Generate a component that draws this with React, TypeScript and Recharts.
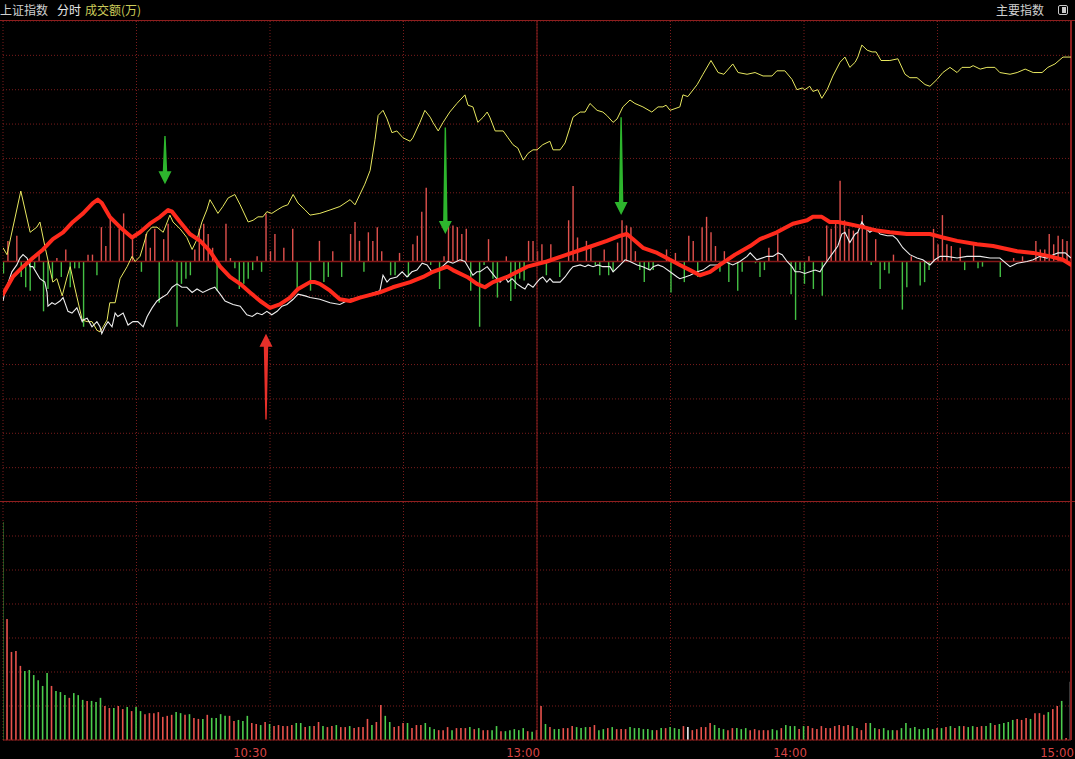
import React from 'react';
import { ComposedChart, Line, Bar, Cell, XAxis, YAxis, ReferenceLine, CartesianGrid } from 'recharts';

// ---------- axis / labels ----------
const minuteTicks = [30, 60, 90, 120, 150, 180, 210, 240];
const labelByMinute: Record<number, string> = { 60: '10:30', 120: '13:00', 180: '14:00', 240: '15:00' };
const priceTicks = [1.2, 1.0, 0.8, 0.6, 0.4, 0.2, -0.2, -0.4, -0.6, -0.8, -1.0, -1.2];
const volumeTicks = [10, 20, 30, 40, 50, 60];

// ---------- series (minute, % change) ----------
const yellowLine: [number, number][] = [
  [0, 0.08], [0.9, 0.04], [4.0, 0.41], [6.1, 0.17], [7.6, 0.20], [8.3, 0.23], [9.4, 0.09], [11.2, -0.12], [12.1, -0.10], [13.3, -0.20],
  [14.4, -0.09], [15.1, -0.03], [16.2, -0.16], [17.8, -0.34], [18.9, -0.35], [20.0, -0.35], [21.1, -0.40], [21.8, -0.41], [22.5, -0.38], [23.4, -0.34],
  [24.0, -0.24], [25.2, -0.24], [26.3, -0.10], [27.9, -0.03], [29.0, 0.03], [29.7, 0.00], [30.8, 0.03], [31.5, 0.09], [32.4, 0.17], [33.5, 0.20],
  [34.6, 0.20], [36.0, 0.17], [36.9, 0.23], [37.5, 0.27], [38.2, 0.23], [39.8, 0.19], [41.3, 0.14], [42.5, 0.07], [43.6, 0.13], [44.7, 0.23],
  [45.8, 0.30], [46.5, 0.36], [47.2, 0.33], [48.3, 0.28], [49.4, 0.32], [50.6, 0.37], [52.1, 0.39], [53.3, 0.33], [55.1, 0.23], [56.2, 0.24],
  [57.3, 0.26], [58.4, 0.26], [59.3, 0.29], [60.4, 0.28], [61.6, 0.30], [62.9, 0.32], [64.0, 0.33], [65.2, 0.39], [66.3, 0.34], [67.9, 0.30],
  [69.0, 0.27], [71.2, 0.28], [73.5, 0.30], [75.7, 0.32], [78.0, 0.36], [79.1, 0.33], [80.2, 0.39], [81.3, 0.45], [82.5, 0.53], [83.6, 0.71],
  [84.3, 0.85], [85.4, 0.88], [86.3, 0.83], [87.4, 0.75], [88.5, 0.76], [89.9, 0.72], [91.5, 0.70], [92.1, 0.72], [93.7, 0.81], [94.8, 0.88],
  [96.0, 0.84], [96.6, 0.81], [97.8, 0.76], [98.9, 0.81], [100.4, 0.87], [102.0, 0.92], [103.8, 0.97], [104.5, 0.91], [105.6, 0.90], [106.7, 0.81],
  [107.9, 0.84], [108.8, 0.87], [109.4, 0.84], [110.6, 0.76], [112.4, 0.76], [113.5, 0.72], [114.6, 0.68], [115.7, 0.66], [116.9, 0.59], [118.0, 0.63],
  [119.1, 0.65], [120.0, 0.65], [121.3, 0.68], [122.9, 0.70], [123.6, 0.65], [125.2, 0.65], [126.3, 0.69], [127.4, 0.78], [128.1, 0.84], [129.7, 0.87],
  [130.8, 0.87], [131.9, 0.92], [133.5, 0.88], [134.8, 0.87], [135.7, 0.85], [137.1, 0.81], [138.0, 0.83], [139.3, 0.90], [140.9, 0.94], [142.0, 0.92],
  [143.8, 0.90], [145.8, 0.87], [147.2, 0.90], [148.3, 0.90], [149.0, 0.91], [149.9, 0.88], [151.0, 0.89], [152.1, 0.90], [152.8, 0.97], [153.9, 0.96],
  [156.0, 1.03], [157.3, 1.09], [159.1, 1.17], [160.7, 1.10], [162.0, 1.09], [164.0, 1.15], [165.2, 1.10], [167.2, 1.09], [169.0, 1.10], [170.8, 1.08],
  [172.8, 1.08], [173.9, 1.11], [175.7, 1.11], [177.3, 1.06], [178.4, 1.00], [179.6, 1.01], [180.2, 1.00], [181.3, 1.02], [182.0, 0.99], [183.1, 1.00],
  [184.0, 0.95], [185.2, 1.00], [186.5, 1.08], [188.1, 1.16], [189.2, 1.19], [190.3, 1.13], [191.5, 1.16], [192.1, 1.19], [193.0, 1.26], [194.2, 1.23],
  [195.3, 1.22], [196.2, 1.22], [197.3, 1.17], [199.3, 1.17], [201.1, 1.18], [202.7, 1.09], [203.8, 1.07], [205.4, 1.07], [207.2, 1.03], [208.3, 1.02],
  [209.9, 1.06], [211.2, 1.10], [212.8, 1.13], [214.4, 1.10], [215.5, 1.13], [217.3, 1.13], [218.0, 1.14], [219.6, 1.12], [221.1, 1.13], [222.9, 1.13],
  [224.0, 1.10], [226.3, 1.09], [227.9, 1.10], [229.7, 1.12], [231.5, 1.10], [233.5, 1.10], [234.8, 1.13], [236.4, 1.15], [238.2, 1.19], [240, 1.19],
];

const whiteLine: [number, number][] = [
  [0, -0.23], [0.4, -0.18], [2.0, -0.06], [3.1, -0.02], [3.8, 0.02], [4.5, 0.04], [5.4, 0.02], [6.1, -0.03], [6.7, -0.03], [8.3, -0.10],
  [9.4, -0.12], [9.9, -0.18], [10.1, -0.26], [11.0, -0.24], [11.7, -0.25], [12.8, -0.23], [13.5, -0.21], [14.6, -0.29], [15.5, -0.30], [16.6, -0.27],
  [17.8, -0.35], [18.0, -0.34], [18.9, -0.33], [20.0, -0.38], [21.1, -0.35], [21.8, -0.38], [22.2, -0.42], [22.9, -0.38], [23.6, -0.35], [24.5, -0.38],
  [25.2, -0.30], [25.8, -0.32], [27.0, -0.30], [28.1, -0.37], [29.2, -0.35], [30.3, -0.35], [31.5, -0.38], [32.4, -0.32], [33.5, -0.27], [34.6, -0.23],
  [35.7, -0.21], [36.9, -0.19], [38.0, -0.15], [39.1, -0.13], [40.2, -0.15], [41.3, -0.15], [42.5, -0.18], [43.6, -0.16], [44.9, -0.18], [46.5, -0.16],
  [47.6, -0.15], [48.8, -0.19], [49.9, -0.23], [51.7, -0.25], [53.3, -0.26], [54.8, -0.31], [56.0, -0.32], [57.1, -0.30], [58.2, -0.31], [59.3, -0.29],
  [60.4, -0.31], [61.6, -0.29], [62.7, -0.26], [63.8, -0.25], [65.2, -0.22], [66.3, -0.19], [67.9, -0.20], [69.0, -0.21], [71.2, -0.22], [73.5, -0.24],
  [75.7, -0.25], [78.0, -0.22], [80.2, -0.21], [82.5, -0.19], [84.7, -0.17], [85.4, -0.08], [86.3, -0.12], [87.0, -0.10], [88.5, -0.09], [89.7, -0.06],
  [90.8, -0.09], [91.9, -0.06], [93.0, -0.05], [94.2, -0.01], [95.3, -0.02], [96.4, -0.06], [97.5, -0.05], [98.7, -0.03], [100.0, 0.00], [101.1, -0.01],
  [102.7, 0.01], [103.8, 0.00], [104.5, -0.03], [105.6, -0.08], [106.5, -0.06], [107.2, -0.06], [108.8, -0.03], [109.4, -0.05], [110.6, -0.09], [111.7, -0.12],
  [112.8, -0.09], [113.5, -0.12], [114.4, -0.10], [115.5, -0.13], [116.6, -0.15], [117.3, -0.16], [118.0, -0.13], [119.1, -0.15], [120.0, -0.12], [120.7, -0.10],
  [121.3, -0.09], [122.2, -0.12], [122.9, -0.10], [123.6, -0.12], [125.2, -0.12], [126.3, -0.09], [127.4, -0.05], [128.1, -0.03], [129.7, -0.02], [130.8, -0.03],
  [131.5, -0.02], [132.6, -0.03], [133.7, -0.02], [134.8, -0.03], [136.4, -0.03], [137.1, -0.06], [138.7, -0.02], [139.8, 0.01], [140.9, 0.00], [142.5, -0.02],
  [143.8, -0.03], [145.4, -0.05], [146.1, -0.03], [147.2, -0.02], [148.3, -0.03], [149.9, -0.06], [151.5, -0.09], [152.1, -0.10], [153.3, -0.09], [154.4, -0.08],
  [156.0, -0.06], [157.3, -0.05], [158.9, -0.02], [160.4, -0.02], [162.2, 0.00], [164.0, -0.02], [165.6, 0.00], [167.2, 0.03], [167.9, 0.05], [169.4, 0.01],
  [171.7, 0.03], [173.0, 0.03], [174.2, 0.05], [175.1, 0.04], [176.2, 0.00], [177.3, -0.03], [178.0, -0.06], [179.1, -0.06], [180.2, -0.07], [181.3, -0.06],
  [182.5, -0.05], [183.6, -0.06], [184.3, -0.03], [185.4, 0.01], [186.5, 0.05], [187.6, 0.09], [188.5, 0.16], [189.2, 0.17], [190.3, 0.11], [191.5, 0.16],
  [192.1, 0.17], [193.0, 0.23], [193.7, 0.20], [194.8, 0.17], [196.0, 0.19], [197.1, 0.16], [198.7, 0.15], [200.0, 0.15], [200.9, 0.13], [202.2, 0.08],
  [203.8, 0.04], [205.4, 0.02], [206.7, 0.01], [208.3, -0.02], [209.4, 0.01], [210.6, 0.03], [212.1, 0.03], [214.4, 0.02], [216.6, 0.03], [219.6, 0.03],
  [221.8, 0.02], [224.0, 0.02], [226.3, -0.03], [227.9, -0.01], [230.1, 0.00], [231.5, 0.01], [233.0, 0.03], [234.6, 0.02], [236.0, 0.04], [237.1, 0.05],
  [238.7, 0.05], [240, 0.02],
];

const trendLine: [number, number][] = [
  [0, -0.19], [2.2, -0.09], [4.5, -0.03], [6.7, 0.02], [9.0, 0.07], [11.2, 0.13], [13.5, 0.17], [15.7, 0.23], [18.0, 0.28], [20.2, 0.34],
  [21.3, 0.36], [22.2, 0.34], [24.0, 0.26], [26.3, 0.20], [29.0, 0.14], [30.8, 0.17], [33.0, 0.22], [35.3, 0.26], [37.1, 0.30], [38.0, 0.29],
  [39.8, 0.23], [42.0, 0.16], [44.3, 0.12], [46.5, 0.06], [48.8, -0.03], [51.0, -0.09], [53.3, -0.13], [55.5, -0.18], [57.8, -0.23], [60.0, -0.27],
  [62.2, -0.25], [64.5, -0.21], [66.3, -0.16], [69.0, -0.12], [70.1, -0.12], [71.2, -0.13], [73.5, -0.17], [75.7, -0.22], [78.0, -0.23], [80.2, -0.21],
  [84.7, -0.18], [87.6, -0.15], [91.5, -0.12], [94.4, -0.09], [96.6, -0.06], [99.8, -0.03], [101.1, -0.05], [104.3, -0.09], [106.5, -0.13], [108.3, -0.15],
  [110.1, -0.12], [113.3, -0.09], [117.8, -0.03], [122.2, 0.00], [126.7, 0.04], [131.2, 0.08], [135.7, 0.12], [138.7, 0.15], [140.2, 0.16], [141.6, 0.13],
  [143.8, 0.08], [147.0, 0.05], [149.9, 0.01], [152.1, -0.02], [154.4, -0.05], [156.6, -0.08], [158.9, -0.06], [161.1, -0.02], [164.5, 0.04], [167.9, 0.09],
  [170.1, 0.13], [173.9, 0.17], [177.5, 0.22], [180.7, 0.24], [182.0, 0.26], [184.0, 0.26], [185.8, 0.23], [187.6, 0.23], [189.7, 0.22], [193.3, 0.20],
  [196.4, 0.18], [199.3, 0.17], [203.1, 0.16], [208.3, 0.16], [211.2, 0.14], [214.4, 0.12], [218.9, 0.10], [222.5, 0.09], [227.9, 0.06], [231.5, 0.05],
  [235.3, 0.03], [238.2, 0.01], [240, -0.02],
];

// net flow bars in the upper panel (minute, value)
const flowBars: [number, number][] = [
  [0, -0.07], [1, 0.12], [3, 0.15], [4, -0.09], [5, -0.15], [6, -0.17], [7, -0.04], [8, 0.04], [9, -0.29], [10, -0.16],
  [11, -0.10], [12, 0.02], [13, -0.09], [14, 0.07], [15, -0.15], [16, -0.04], [17, -0.04], [18, -0.38], [19, 0.04], [20, 0.04],
  [21, -0.08], [22, 0.20], [23, 0.09], [24, 0.25], [26, 0.19], [27, 0.28], [29, 0.13], [31, -0.06], [32, 0.16], [33, 0.08],
  [34, 0.19], [35, -0.24], [36, 0.13], [37, 0.22], [38, 0.01], [39, -0.38], [40, -0.13], [41, -0.10], [42, -0.08], [43, 0.07],
  [44, 0.19], [45, 0.22], [46, 0.16], [47, 0.08], [48, -0.17], [50, 0.22], [51, 0.02], [52, -0.04], [53, -0.16], [54, -0.13],
  [55, -0.10], [56, -0.05], [57, 0.03], [58, -0.06], [59, 0.28], [60, 0.06], [61, 0.16], [63, 0.08], [65, 0.19], [66, -0.16],
  [69, -0.17], [71, 0.12], [72, -0.12], [73, -0.09], [74, 0.06], [76, -0.09], [78, 0.16], [79, 0.23], [80, 0.12], [81, -0.06],
  [82, 0.17], [83, 0.12], [84, 0.20], [85, 0.06], [87, -0.08], [88, -0.08], [89, 0.05], [91, -0.09], [92, 0.10], [93, 0.15],
  [94, 0.29], [95, 0.43], [96, -0.02], [98, -0.16], [99, 0.03], [100, 0.21], [101, 0.21], [102, 0.20], [103, 0.16], [104, 0.19],
  [105, -0.17], [107, -0.38], [108, -0.02], [109, 0.13], [110, -0.10], [111, -0.21], [113, 0.03], [114, -0.23], [115, -0.16], [116, -0.10],
  [117, -0.11], [118, 0.12], [119, 0.12], [120, 0.06], [121, 0.10], [122, -0.08], [123, 0.10], [125, -0.09], [127, 0.24], [128, 0.44],
  [129, 0.14], [131, 0.12], [132, 0.08], [133, -0.02], [134, -0.08], [135, 0.07], [136, -0.08], [137, -0.06], [138, 0.11], [139, 0.24],
  [140, 0.21], [141, 0.20], [142, 0.06], [143, -0.05], [144, -0.12], [145, -0.05], [146, -0.05], [149, 0.07], [150, -0.18], [151, 0.05],
  [153, -0.12], [154, 0.15], [155, 0.12], [156, -0.09], [157, 0.20], [158, 0.26], [159, 0.17], [160, 0.09], [161, -0.06], [162, 0.06],
  [163, -0.12], [165, -0.17], [166, -0.06], [169, -0.01], [170, -0.09], [171, -0.05], [172, 0.08], [174, 0.16], [177, -0.19], [178, -0.34],
  [179, -0.05], [180, -0.13], [181, 0.03], [182, -0.16], [184, -0.20], [185, 0.21], [186, 0.19], [187, 0.24], [188, 0.47], [189, 0.24],
  [190, 0.19], [191, 0.18], [192, 0.17], [193, 0.27], [194, 0.20], [195, -0.02], [196, 0.13], [197, -0.16], [198, -0.05], [199, -0.07],
  [200, 0.04], [202, -0.28], [203, -0.15], [204, 0.03], [206, -0.14], [207, -0.12], [208, -0.05], [209, 0.19], [210, 0.10], [211, 0.27],
  [212, 0.10], [213, 0.09], [215, 0.08], [216, -0.05], [218, 0.10], [219, -0.04], [220, -0.03], [224, -0.09], [227, 0.02], [229, 0.03],
  [232, 0.12], [233, 0.07], [234, 0.07], [235, 0.16], [236, 0.10], [237, 0.15], [238, 0.13], [239, 0.12], [240, 0.16],
];

// per-minute turnover (lower panel)
const turnover: number[] = [
  64.1, 35.6, 25.9, 26.2, 21.8, 20.3, 20.6, 19.1, 17.6, 15.9, 19.7, 15.9, 14.4, 14.1, 13.2, 12.4, 13.8, 13.2, 11.8, 11.5,
  11.5, 11.2, 12.4, 10.0, 9.4, 9.4, 10.0, 9.1, 9.7, 8.5, 9.7, 8.5, 7.6, 7.9, 7.9, 8.2, 6.8, 7.1, 7.4, 8.2,
  7.9, 7.4, 7.6, 6.5,
  6.2, 6.2, 7.4, 6.5, 6.5, 7.6, 7.1, 7.1, 5.6, 5.9, 5.6, 7.1, 5.0, 4.7, 4.4, 5.3, 4.7, 4.1, 4.4, 4.1,
  4.1, 4.4, 5.0, 5.0, 3.8, 4.1, 4.1, 5.3, 4.1, 3.8, 4.1, 4.4, 3.8, 3.8, 4.1, 3.5, 3.8, 3.8, 6.2, 4.4,
  5.3, 10.3, 7.1, 5.3, 3.8, 4.1, 5.0, 5.0, 3.5, 4.4, 4.4, 5.0, 3.8, 3.2, 2.9, 2.9, 3.8, 2.9, 3.5, 3.5,
  3.5,
  3.8, 3.2, 3.5, 2.9, 2.9, 2.9, 4.1, 2.6, 2.6, 2.9, 3.2, 2.9, 3.5, 2.6, 2.4, 2.9, 10.0, 4.7, 3.8, 3.2,
  3.2, 3.5, 3.5, 4.1, 3.8, 3.5, 3.8, 3.8, 4.4, 2.9,
  3.2, 3.5, 3.8, 3.2, 3.2, 3.2, 3.8, 3.5, 3.5, 3.2, 3.2, 2.9, 2.9, 3.5, 3.5, 3.8, 3.5, 3.2, 4.1, 3.8,
  2.9, 3.2, 3.8, 3.8, 5.0, 4.4, 3.5, 3.2, 2.9, 3.5, 3.5, 3.2, 3.5, 2.9, 3.2, 2.9, 2.9, 2.9, 3.2, 2.9,
  3.5, 4.4, 4.1, 4.1, 3.2, 4.1, 4.1, 3.5, 3.2, 4.1,
  3.5,
  3.5, 4.1, 4.4, 4.1, 4.4, 4.1, 3.5, 2.9, 5.0, 5.0, 3.5, 3.2, 3.5, 2.9, 2.9, 2.9, 3.5, 5.0, 3.5, 3.8,
  3.2, 3.2, 3.5, 3.2, 3.5, 3.5, 3.8, 4.1, 3.5, 4.1, 4.1, 3.8, 4.1, 3.8, 4.1, 4.1, 5.0, 4.4, 4.7, 5.0,
  5.3, 5.9, 6.2, 5.9, 6.5, 6.2, 7.9, 7.9, 7.4, 8.2, 9.1, 10.0, 11.5, 0.6, 17.1,
];

// direction of each minute bar: u = up, d = down, f = flat
const directions: string[] = [
  'd','u','u','u','u','d','d','d','d','d', 'd','u','d','d','d','u','d','d','d','u',
  'd','d','d','u','u','d','u','u','d','u', 'd','d','u','u','u','u','u','u','u','d',
  'd','u','d','u',
  'u','d','u','d','d','d','d','u','u','d', 'd','d','u','u','d','u','d','u','u','u',
  'u','u','d','d','u','d','u','u','d','u', 'u','d','u','u','d','u','u','u','u','d',
  'u','u','d','d','u','u','u','d','u','u', 'u','d','d','d','u','u','u','d','u','u',
  'u',
  'd','u','d','u','u','d','d','u','d','d', 'd','d','d','u','d','u','u','d','u','d',
  'd','u','u','u','d','d','d','u','u','d',
  'd','u','d','u','u','u','d','d','d','d', 'd','d','u','d','u','d','d','d','u','f',
  'u','u','u','u','u','d','d','d','u','u', 'd','d','d','u','u','u','u','u','d','d',
  'u','d','d','d','u','d','u','u','u','u',
  'u',
  'u','u','u','u','u','d','u','u','u','d', 'd','u','d','d','d','u','d','d','d','d',
  'd','d','d','d','u','d','u','d','u','d', 'u','d','d','u','u','d','d','u','d','d',
  'd','d','u','u','u','d','u','u','u','d', 'u','u','d','u','f',
];

// annotation arrows (minute, from value, to value, signal)
const signalArrows: { t: number; from: number; to: number; signal: 'sell' | 'buy' }[] = [
  { t: 36.4, from: 0.73, to: 0.45, signal: 'sell' },
  { t: 59.1, from: -0.92, to: -0.42, signal: 'buy' },
  { t: 99.4, from: 0.78, to: 0.16, signal: 'sell' },
  { t: 138.9, from: 0.84, to: 0.27, signal: 'sell' },
];

// ---------- styling ----------
const C = {
  bg: '#000000',
  grid: '#7a1c1c',
  frame: '#8e1f1f',
  yellow: '#e8e860',
  white: '#ededed',
  trend: '#ff2a1c',
  up: '#e8524c',
  down: '#4ccc4c',
  flat: '#f0f0f0',
  flowUp: '#e0514d',
  flowDown: '#44c044',
  axisText: '#d84545',
  sell: '#2db52d',
  buy: '#e8302a',
};

const toRows = (pts: [number, number][]) => pts.map(([t, v]) => ({ t, v }));
const flowRows = flowBars.map(([t, v]) => ({ t, flow: v }));
const volumeRows = turnover.map((v, i) => ({ t: i, vol: v, dir: directions[i] }));

const makeArrow = (color: string) => (props: any) => {
  const { x1, y1, x2, y2 } = props;
  if ([x1, y1, x2, y2].some((n) => typeof n !== 'number' || isNaN(n))) return null;
  const dir = Math.sign(y2 - y1) || 1;
  const headLen = 13;
  const hw = 6.5;
  const yb = y2 - dir * headLen;
  const d = `M${x1 - 0.7},${y1} L${x1 + 0.7},${y1} L${x2 + 2.2},${yb} L${x2 + hw},${yb} L${x2},${y2} L${x2 - hw},${yb} L${x2 - 2.2},${yb} Z`;
  return <path d={d} fill={color} stroke="none" />;
};

const TimeTick = (props: any) => {
  const { x, y, payload } = props;
  const label = labelByMinute[payload.value];
  if (!label) return null;
  const shift = payload.value === 60 ? -20 : -14;
  return (
    <text x={x + shift} y={y + 9} fill={C.axisText} fontSize={13} textAnchor="middle"
      fontFamily='"Liberation Sans Narrow", "Arial Narrow", "DejaVu Sans Condensed", sans-serif'>
      {label}
    </text>
  );
};

const margin = { top: 0, right: 4, bottom: 0, left: 3 };

export default function App() {
  return (
    <div style={{ position: 'fixed', left: 0, top: 0, width: 1075, height: 759, background: C.bg, overflow: 'hidden' }}>
      <style>{`html,body{margin:0;background:#000;}`}</style>
      {/* header */}
      <div style={{ position: 'absolute', left: 0, top: 0, width: 1075, height: 21, fontFamily: '"Noto Sans CJK SC", sans-serif', fontSize: 12, lineHeight: '21px' }}>
        <span style={{ position: 'absolute', left: 0, top: -1, color: '#d0d0d0' }}>上证指数</span>
        <span style={{ position: 'absolute', left: 57, top: -1, color: '#e8e8e8' }}>分时</span>
        <span style={{ position: 'absolute', left: 85, top: -1, color: '#cccc5a' }}>成交额(万)</span>
        <span style={{ position: 'absolute', left: 996, top: -1, color: '#d0d0d0' }}>主要指数</span>
        <div style={{ position: 'absolute', left: 1058, top: 5, width: 10, height: 10, border: '1px solid #c8c8c8', borderRadius: 2, boxSizing: 'border-box' }}>
          <div style={{ position: 'absolute', right: 1, top: 1, width: 4, height: 6, background: '#c8c8c8' }} />
        </div>
      </div>
      <div style={{ position: 'absolute', left: 0, top: 20, width: 1075, height: 1, background: C.frame }} />

      {/* upper panel: grid + flow bars */}
      <div style={{ position: 'absolute', left: 0, top: 21 }}>
        <ComposedChart width={1075} height={481} data={flowRows} margin={margin}>
          <CartesianGrid stroke={C.grid} strokeDasharray="1 2" />
          <XAxis dataKey="t" type="number" domain={[0, 240]} ticks={minuteTicks} hide allowDataOverflow />
          <YAxis type="number" domain={[-1.4, 1.4]} ticks={priceTicks} hide allowDataOverflow />
          <ReferenceLine x={120} stroke={C.frame} strokeWidth={1} />
          <ReferenceLine x={240} stroke={C.frame} strokeWidth={2} />
          <ReferenceLine y={0} stroke="#861818" strokeWidth={1.5} />
          <Bar dataKey="flow" barSize={1.4} isAnimationActive={false}>
            {flowRows.map((r, i) => (
              <Cell key={i} fill={r.flow >= 0 ? C.flowUp : C.flowDown} />
            ))}
          </Bar>
        </ComposedChart>
      </div>

      {/* upper panel: lines + signal arrows (same axes, layered on top) */}
      <div style={{ position: 'absolute', left: 0, top: 21 }}>
        <ComposedChart width={1075} height={481} margin={margin}>
          <XAxis dataKey="t" type="number" domain={[0, 240]} hide allowDataOverflow />
          <YAxis type="number" domain={[-1.4, 1.4]} hide allowDataOverflow />
          <Line data={toRows(yellowLine)} dataKey="v" type="linear" stroke={C.yellow} strokeWidth={1} dot={false} activeDot={false} isAnimationActive={false} />
          <Line data={toRows(whiteLine)} dataKey="v" type="linear" stroke={C.white} strokeWidth={1.1} dot={false} activeDot={false} isAnimationActive={false} />
          <Line data={toRows(trendLine)} dataKey="v" type="linear" stroke={C.trend} strokeWidth={4} strokeLinejoin="round" strokeLinecap="round" dot={false} activeDot={false} isAnimationActive={false} />
          {signalArrows.map((a, i) => (
            <ReferenceLine key={i} segment={[{ x: a.t, y: a.from }, { x: a.t, y: a.to }]}
              shape={makeArrow(a.signal === 'sell' ? C.sell : C.buy)} ifOverflow="visible" />
          ))}
        </ComposedChart>
      </div>
      <div style={{ position: 'absolute', left: 0, top: 501, width: 1075, height: 1, background: C.frame }} />

      {/* lower panel */}
      <div style={{ position: 'absolute', left: 0, top: 502 }}>
        <ComposedChart width={1075} height={257} data={volumeRows} margin={margin}>
          <CartesianGrid stroke={C.grid} strokeDasharray="1 2" />
          <XAxis dataKey="t" type="number" domain={[0, 240]} ticks={minuteTicks} interval={0} height={19}
            axisLine={{ stroke: C.frame }} tickLine={false} tick={<TimeTick />} allowDataOverflow />
          <YAxis type="number" domain={[0, 70]} ticks={volumeTicks} hide allowDataOverflow />
          <ReferenceLine x={120} stroke={C.frame} strokeWidth={1} />
          <ReferenceLine x={240} stroke={C.frame} strokeWidth={2} />
          <Bar dataKey="vol" barSize={1.6} isAnimationActive={false}>
            {volumeRows.map((r, i) => (
              <Cell key={i} fill={r.dir === 'u' ? C.up : r.dir === 'd' ? C.down : C.flat} />
            ))}
          </Bar>
        </ComposedChart>
      </div>
    </div>
  );
}
